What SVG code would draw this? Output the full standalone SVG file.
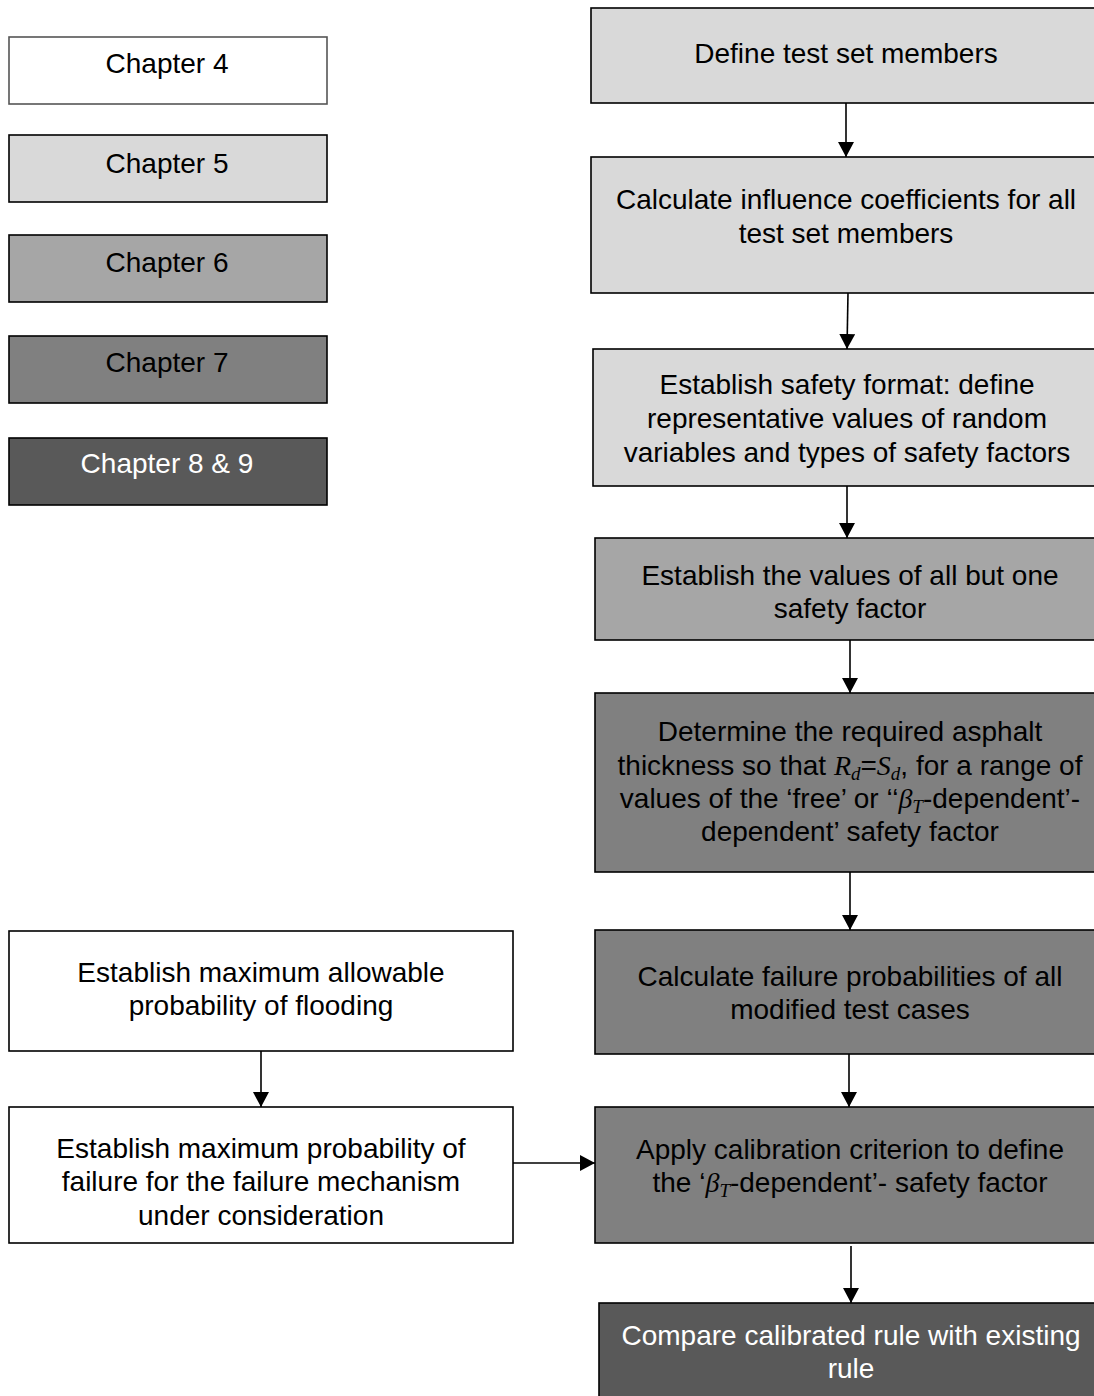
<svg xmlns="http://www.w3.org/2000/svg" width="1094" height="1396" viewBox="0 0 1094 1396">
<style>
  .box { stroke: #000; stroke-width: 1.6; }
  .t { font-family: "Liberation Sans", Arial, sans-serif; font-size: 28px; text-anchor: middle; fill: #000; }
  .w { fill: #fff; }
  .m { font-family: "Liberation Serif", "Times New Roman", serif; font-style: italic; }
  .sub { font-family: "Liberation Serif", "Times New Roman", serif; font-style: italic; font-size: 19px; }
  .c1 { fill: #ffffff; }
  .c2 { fill: #d9d9d9; }
  .c3 { fill: #a6a6a6; }
  .c4 { fill: #808080; }
  .c5 { fill: #595959; }
  .conn { stroke: #000; stroke-width: 1.6; fill: none; marker-end: url(#arr); }
</style>
<defs>
  <marker id="arr" viewBox="0 0 15 16" refX="15" refY="8" markerWidth="15" markerHeight="16" markerUnits="userSpaceOnUse" orient="auto">
    <path d="M0,0 L15,8 L0,16 Z" fill="#000"/>
  </marker>
</defs>
<rect width="1094" height="1396" fill="#fff"/>

<g id="legend-ch4"><rect class="box c1" x="9" y="37" width="318" height="67" style="stroke:#555"/><text class="t" x="167" y="73">Chapter 4</text></g>
<g id="legend-ch5"><rect class="box c2" x="9" y="135" width="318" height="67"/><text class="t" x="167" y="173">Chapter 5</text></g>
<g id="legend-ch6"><rect class="box c3" x="9" y="235" width="318" height="67"/><text class="t" x="167" y="272">Chapter 6</text></g>
<g id="legend-ch7"><rect class="box c4" x="9" y="336" width="318" height="67"/><text class="t" x="167" y="372">Chapter 7</text></g>
<g id="legend-ch89"><rect class="box c5" x="9" y="438" width="318" height="67"/><text class="t w" x="167" y="473">Chapter 8 &amp; 9</text></g>

<g id="n1"><rect class="box c2" x="591" y="8" width="512" height="95"/><text class="t" x="846" y="63">Define test set members</text></g>
<g id="n2"><rect class="box c2" x="591" y="157" width="512" height="136"/>
  <text class="t" x="846" y="209">Calculate influence coefficients for all</text>
  <text class="t" x="846" y="243">test set members</text></g>
<g id="n3"><rect class="box c2" x="593" y="349" width="512" height="137"/>
  <text class="t" x="847" y="394">Establish safety format: define</text>
  <text class="t" x="847" y="428">representative values of random</text>
  <text class="t" x="847" y="462">variables and types of safety factors</text></g>
<g id="n4"><rect class="box c3" x="595" y="538" width="512" height="102"/>
  <text class="t" x="850" y="585">Establish the values of all but one</text>
  <text class="t" x="850" y="618">safety factor</text></g>
<g id="n5"><rect class="box c4" x="595" y="693" width="512" height="179"/>
  <text class="t" x="850" y="741">Determine the required asphalt</text>
  <text class="t" x="850" y="775">thickness so that <tspan class="m">R</tspan><tspan class="sub" dy="5">d</tspan><tspan dy="-5">=</tspan><tspan class="m">S</tspan><tspan class="sub" dy="5">d</tspan><tspan dy="-5">, for a range of</tspan></text>
  <text class="t" x="850" y="808">values of the ‘free’ or ‘‘<tspan class="m">β</tspan><tspan class="sub" dy="5">T</tspan><tspan dy="-5">-dependent’-</tspan></text>
  <text class="t" x="850" y="841">dependent’ safety factor</text></g>
<g id="n6"><rect class="box c4" x="595" y="930" width="512" height="124"/>
  <text class="t" x="850" y="986">Calculate failure probabilities of all</text>
  <text class="t" x="850" y="1019">modified test cases</text></g>
<g id="n7"><rect class="box c4" x="595" y="1107" width="512" height="136"/>
  <text class="t" x="850" y="1159">Apply calibration criterion to define</text>
  <text class="t" x="850" y="1192">the ‘<tspan class="m">β</tspan><tspan class="sub" dy="5">T</tspan><tspan dy="-5">-dependent’- safety factor</tspan></text></g>
<g id="n8"><rect class="box c5" x="599" y="1303" width="512" height="110"/>
  <text class="t w" x="851" y="1345">Compare calibrated rule with existing</text>
  <text class="t w" x="851" y="1378">rule</text></g>

<g id="nA"><rect class="box c1" x="9" y="931" width="504" height="120"/>
  <text class="t" x="261" y="982">Establish maximum allowable</text>
  <text class="t" x="261" y="1015">probability of flooding</text></g>
<g id="nB"><rect class="box c1" x="9" y="1107" width="504" height="136"/>
  <text class="t" x="261" y="1158">Establish maximum probability of</text>
  <text class="t" x="261" y="1191">failure for the failure mechanism</text>
  <text class="t" x="261" y="1225">under consideration</text></g>

<g id="connectors">
  <line class="conn" x1="846" y1="103" x2="846" y2="157"/>
  <line class="conn" x1="848" y1="293" x2="847" y2="349"/>
  <line class="conn" x1="847" y1="486" x2="847" y2="538"/>
  <line class="conn" x1="850" y1="640" x2="850" y2="693"/>
  <line class="conn" x1="850" y1="872" x2="850" y2="930"/>
  <line class="conn" x1="849" y1="1054" x2="849" y2="1107"/>
  <line class="conn" x1="851" y1="1246" x2="851" y2="1303"/>
  <line class="conn" x1="261" y1="1051" x2="261" y2="1107"/>
  <line class="conn" x1="513" y1="1163" x2="595" y2="1163"/>
</g>
</svg>
